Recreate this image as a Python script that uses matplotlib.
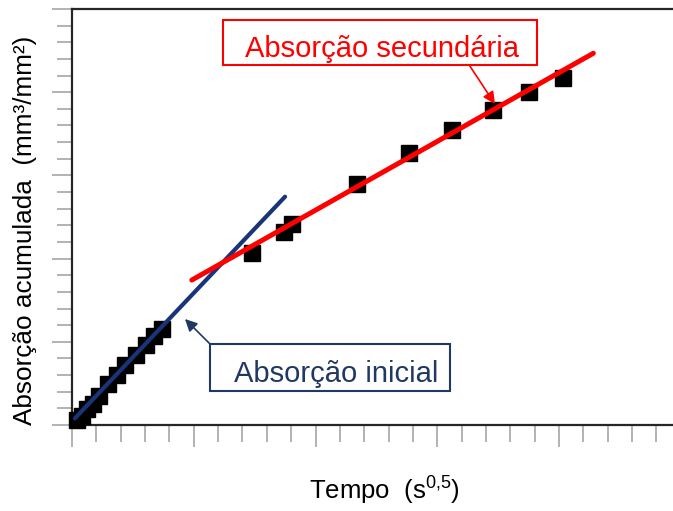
import numpy as np
import matplotlib
matplotlib.use("Agg")
import matplotlib.pyplot as plt
from matplotlib.ticker import MultipleLocator
from matplotlib.patches import Rectangle

plt.rcParams["font.family"] = ["Liberation Sans", "DejaVu Sans"]
plt.rcParams["mathtext.fontset"] = "custom"
plt.rcParams["mathtext.rm"] = "Liberation Sans"
plt.rcParams["mathtext.it"] = "Liberation Sans:italic"

# measured points (axis in tick units)
t_initial = [0.19, 0.40, 0.61, 0.86, 1.11, 1.49, 1.83, 2.16, 2.63, 3.04, 3.35, 3.68]
abs_initial = [0.33, 0.54, 0.96, 1.26, 1.74, 2.46, 3.00, 3.61, 4.21, 4.81, 5.32, 5.79]
t_secondary = [7.38, 8.71, 9.05, 11.69, 13.85, 15.62, 17.30, 18.77, 20.18]
abs_secondary = [10.35, 11.62, 12.06, 14.47, 16.33, 17.73, 18.93, 19.99, 20.87]

# fitted lines (end points)
fit_initial_x = [0.12, 8.75]
fit_initial_y = [0.40, 13.72]
fit_secondary_x = [4.92, 21.41]
fit_secondary_y = [8.71, 22.34]

red = "#ff0000"
navy = "#1a3478"
navy_txt = "#203864"

fig = plt.figure(figsize=(6.73, 5.11), dpi=100)
ax = fig.add_axes([72 / 673, 86 / 511, 601 / 673, 416 / 511])

ax.plot(t_initial + t_secondary, abs_initial + abs_secondary, "s", color="black",
        markersize=11.5, zorder=3, clip_on=False)
ax.plot(fit_initial_x, fit_initial_y, color=navy, lw=3.0, solid_capstyle="round", zorder=4)
ax.plot(fit_secondary_x, fit_secondary_y, color=red, lw=3.6, solid_capstyle="round", zorder=4)

ax.set_xlim(0, 601 / 24.35)
ax.set_ylim(0, 25)
ax.xaxis.set_major_locator(MultipleLocator(5))
ax.xaxis.set_minor_locator(MultipleLocator(1))
ax.yaxis.set_major_locator(MultipleLocator(5))
ax.yaxis.set_minor_locator(MultipleLocator(1))
ax.tick_params(which="both", direction="out", color="#a6a6a6", width=1.2,
               labelbottom=False, labelleft=False)
ax.tick_params(axis="x", which="major", length=15.6)
ax.tick_params(axis="x", which="minor", length=12)
ax.tick_params(axis="y", which="major", length=14.4)
ax.tick_params(axis="y", which="minor", length=10.8)

ax.spines["right"].set_visible(False)
for s in ["top", "left", "bottom"]:
    ax.spines[s].set_color("#262626")
    ax.spines[s].set_linewidth(1.6)

# annotation: secondary
ax.add_patch(Rectangle((6.21, 21.64), 19.08 - 6.21, 24.34 - 21.64, fill=False,
                       edgecolor=red, lw=1.5, clip_on=False, zorder=5))
ax.text(12.72, 22.13, "Absorção secundária", color=red, fontsize=21,
        ha="center", va="baseline", zorder=5)
ax.annotate("", xy=(17.37, 19.29), xytext=(16.34, 21.57),
            arrowprops=dict(arrowstyle="-|>", color=red, lw=1.2, mutation_scale=18,
                            shrinkA=0, shrinkB=0), zorder=5)

# annotation: initial
ax.add_patch(Rectangle((5.667, 2.06), 15.52 - 5.667, 4.868 - 2.06, fill=False,
                       edgecolor=navy_txt, lw=1.5, clip_on=False, zorder=5))
ax.text(10.83, 2.58, "Absorção inicial", color=navy_txt, fontsize=21,
        ha="center", va="baseline", zorder=5)
ax.annotate("", xy=(4.64, 6.37), xytext=(5.667, 4.87),
            arrowprops=dict(arrowstyle="-|>", color=navy_txt, lw=1.2, mutation_scale=18,
                            shrinkA=0, shrinkB=0), zorder=5)

fig.text(384 / 673, 11 / 511, "Tempo  (s$^{0{,}5}$)", fontsize=18.5,
         ha="center", va="baseline")
fig.text(25 / 673, (511 - 230) / 511, "Absorção acumulada  (mm³/mm²)", fontsize=18.8,
         rotation=90, ha="center", va="center")

fig.savefig("out.png", dpi=100)
